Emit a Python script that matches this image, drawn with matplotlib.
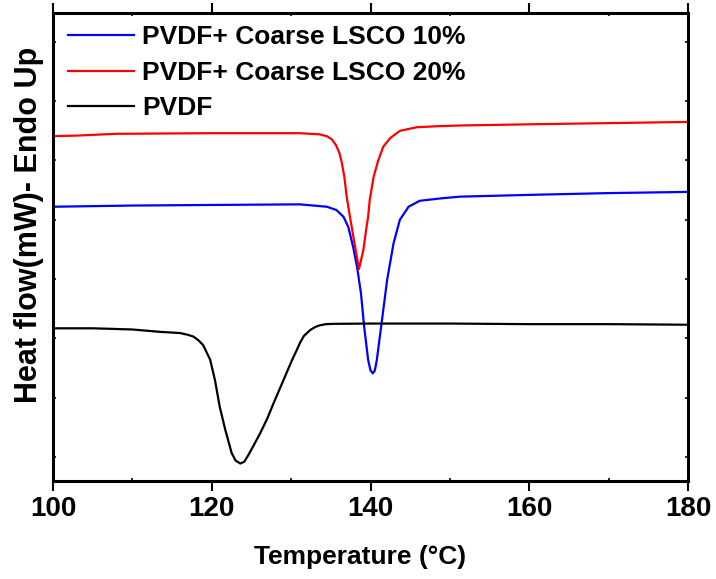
import matplotlib
matplotlib.use("Agg")
import matplotlib.pyplot as plt
from matplotlib.ticker import MultipleLocator, NullFormatter

# temperature (C) and heat flow (arbitrary offset units, endo up)
t_pvdf = [100, 105, 110, 113.5, 116.0, 117.0, 117.7, 118.3, 118.9, 119.3, 119.8, 120.1,
          120.4, 121.0, 121.7, 122.5, 123.0, 123.6, 124.1, 124.6, 125.3, 126.1, 127.0,
          127.8, 128.6, 129.4, 130.1, 130.7, 131.1, 131.6, 132.4, 133.0, 133.6, 134.4,
          135.3, 140, 150, 160, 170, 180]
hf_pvdf = [2.17, 2.17, 2.15, 2.11, 2.09, 2.06, 2.03, 1.97, 1.89, 1.78, 1.64, 1.47,
           1.30, 0.85, 0.46, 0.07, -0.06, -0.11, -0.08, 0.03, 0.20, 0.40, 0.65,
           0.91, 1.16, 1.41, 1.63, 1.80, 1.92, 2.04, 2.14, 2.19, 2.22, 2.24,
           2.245, 2.25, 2.25, 2.24, 2.24, 2.23]

t_10 = [100, 110, 120, 131.1, 134.5, 135.7, 136.6, 137.2, 137.8, 138.3, 138.8, 139.2,
        139.7, 140.0, 140.3, 140.55, 140.8, 141.4, 142.1, 142.9, 143.7, 144.8, 146.2,
        148.8, 151.3, 160, 170, 180]
hf_10 = [4.22, 4.24, 4.25, 4.26, 4.22, 4.165, 4.05, 3.88, 3.55, 3.21, 2.76, 2.20,
         1.64, 1.46, 1.41, 1.46, 1.64, 2.26, 2.99, 3.60, 4.00, 4.22, 4.32,
         4.36, 4.39, 4.42, 4.45, 4.47]

t_20 = [100, 103, 108, 120, 131.1, 133.6, 134.5, 135.1, 135.65, 136.1, 136.4, 136.7,
        137.0, 137.4, 138.05, 138.55, 139.1, 139.5, 139.7, 139.9, 140.4, 141.0, 141.6,
        142.5, 143.7, 145.8, 148.8, 151.3, 160, 170, 180]
hf_20 = [5.41, 5.42, 5.45, 5.46, 5.46, 5.44, 5.41, 5.36, 5.26, 5.12, 4.95, 4.73,
         4.39, 4.06, 3.55, 3.17, 3.49, 3.88, 4.05, 4.33, 4.73, 5.01, 5.23,
         5.38, 5.50, 5.56, 5.58, 5.59, 5.61, 5.63, 5.65]

bold = ["Liberation Sans", "DejaVu Sans"]

fig = plt.figure(figsize=(7.16, 5.79), dpi=100)
ax = fig.add_axes([53 / 716, 1 - 481 / 579, 635 / 716, 468 / 579])

ax.plot(t_10, hf_10, color="#0000ff", lw=1.6, label="PVDF+ Coarse LSCO 10%")
ax.plot(t_20, hf_20, color="#ff0000", lw=1.6, label="PVDF+ Coarse LSCO 20%")
ax.plot(t_pvdf, hf_pvdf, color="black", lw=1.6, label="PVDF")

ax.set_xlim(100, 180)
ax.set_ylim(-0.405, 7.487)

ax.xaxis.set_major_locator(MultipleLocator(20))
ax.xaxis.set_minor_locator(MultipleLocator(10))
ax.yaxis.set_major_locator(MultipleLocator(1))
ax.yaxis.set_major_formatter(NullFormatter())

for s in ax.spines.values():
    s.set_linewidth(2.2)

ax.tick_params(axis="x", which="major", direction="out", length=7, width=1.5,
               pad=4, labelsize=20)
ax.tick_params(axis="x", which="minor", direction="in", length=2.5, width=1.2,
               top=True)
ax.tick_params(axis="x", which="major", top=True, labeltop=False)
ax.tick_params(axis="y", which="major", direction="in", length=2.5, width=1.2,
               right=True)
for lab in ax.get_xticklabels():
    lab.set_family(bold)
    lab.set_weight("bold")

ax.set_xlabel("Temperature (°C)", family=bold, weight="bold", fontsize=19)
ax.xaxis.set_label_coords(0.483, -0.137)
ax.set_ylabel("Heat flow(mW)- Endo Up", family=bold, weight="bold", fontsize=22,
              va="center")
ax.yaxis.set_label_coords(-0.038, 0.547)

ax.legend(loc="upper left", bbox_to_anchor=(0.024, 0.974), frameon=False,
          prop={"family": bold, "weight": "bold", "size": 19},
          handlelength=2.5, handletextpad=0.3, labelspacing=0.44,
          borderpad=0, borderaxespad=0)

fig.savefig("out.png", dpi=100)
